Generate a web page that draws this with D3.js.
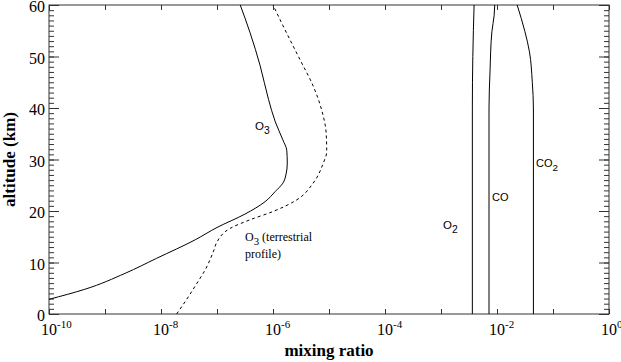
<!DOCTYPE html>
<html><head><meta charset="utf-8">
<script src="https://cdn.jsdelivr.net/npm/d3@7"></script>
<style>
body{margin:0;background:#fff;}
svg{display:block;}
</style></head>
<body><svg id="c" width="621" height="362"></svg>
<script>
// Ozone profile (solid)
const o3Alt = [2.85, 4.8, 7.9, 10.8, 14.4, 16.8, 19.4, 21.8, 23.8, 25.4, 27.0, 29.3, 31.8, 33.8, 37.3, 41.7, 48.2, 54.6, 60];
const o3Mix = [1e-10, 4.37e-10, 2.29e-9, 8.3e-9, 4.07e-8, 1.0e-7, 3.16e-7, 7.2e-7, 1.1e-6, 1.5e-6, 1.7e-6, 1.8e-6, 1.76e-6, 1.5e-6, 1.1e-6, 8.3e-7, 5.9e-7, 3.9e-7, 2.6e-7];
// Ozone terrestrial profile (dashed)
const o3TerAlt = [0, 2.4, 6.0, 8.5, 12.4, 14.0, 16.6, 18.3, 19.9, 22.1, 25.4, 29.3, 31.5, 35.1, 39.6, 44.3, 49.5, 54.5, 60];
const o3TerMix = [1.9e-8, 2.7e-8, 4.4e-8, 6.1e-8, 8.8e-8, 1.0e-7, 1.7e-7, 3.9e-7, 1.0e-6, 2.6e-6, 5.2e-6, 7.9e-6, 9.1e-6, 8.9e-6, 7.4e-6, 5.2e-6, 3.0e-6, 1.76e-6, 1.0e-6];
// O2
const o2Alt = [0, 40, 50, 60];
const o2Mix = [3.63e-3, 3.63e-3, 3.7e-3, 3.9e-3];
// CO
const coAlt = [0, 40, 47, 54.8, 58, 60];
const coMix = [7.2e-3, 7.2e-3, 7.5e-3, 8.1e-3, 8.9e-3, 9.1e-3];
// CO2
const co2Alt = [0, 39.8, 45, 50.9, 54.8, 60];
const co2Mix = [0.0447, 0.0447, 0.0427, 0.038, 0.0316, 0.0229];

const xExponents = [-10, -9, -8, -7, -6, -5, -4, -3, -2, -1, 0];
const xLabelExponents = [-10, -8, -6, -4, -2, 0];
const yMajor = [0, 10, 20, 30, 40, 50, 60];
const yMinor = d3.range(0, 61, 1);

const L = 49, R = 609, T = 5, B = 314;
const svg = d3.select("#c");
const x = d3.scaleLog().domain([1e-10, 1]).range([L, R]);
const y = d3.scaleLinear().domain([0, 60]).range([B, T]);

const axisColor = "#333";
const serif = "'Liberation Serif', 'Times New Roman', Times, serif";
const sans = "'Liberation Sans', Arial, Helvetica, sans-serif";
function style(g){
  g.selectAll("path,line").attr("stroke", axisColor).attr("stroke-width", 1);
  g.select(".domain").remove();
}
const decades = xExponents.map(e => Math.pow(10, e));

svg.append("g").attr("transform", `translate(0,${B})`)
  .call(d3.axisBottom(x).tickValues(decades).tickSize(-5).tickSizeOuter(0).tickFormat("")).call(style);
svg.append("g").attr("transform", `translate(0,${T})`)
  .call(d3.axisTop(x).tickValues(decades).tickSize(-5).tickSizeOuter(0).tickFormat("")).call(style);
svg.append("g").attr("transform", `translate(${L},0)`)
  .call(d3.axisLeft(y).tickValues(yMinor).tickSize(-5).tickSizeOuter(0).tickFormat("")).call(style);
svg.append("g").attr("transform", `translate(${R},0)`)
  .call(d3.axisRight(y).tickValues(yMinor).tickSize(-5).tickSizeOuter(0).tickFormat("")).call(style);
svg.append("g").attr("transform", `translate(${R},0)`)
  .call(d3.axisRight(y).tickValues(yMajor).tickSize(-10).tickSizeOuter(0).tickFormat("")).call(style);
const yl = svg.append("g").attr("transform", `translate(${L},0)`)
  .call(d3.axisLeft(y).tickValues(yMajor).tickSize(-10).tickSizeOuter(0).tickPadding(4).tickFormat(d3.format("d")));
style(yl);
yl.attr("font-family", null).attr("font-size", null);
yl.selectAll("text").attr("font-family", serif)
  .attr("font-size", 16).attr("fill", "#000").attr("dy", "0.42em");

// frame
svg.append("rect").attr("x", L).attr("y", T).attr("width", R - L).attr("height", B - T)
  .attr("fill", "none").attr("stroke", axisColor).attr("stroke-width", 1);

// x tick labels with superscripts
const xl = svg.append("g").attr("font-family", serif).attr("fill", "#000");
xLabelExponents.forEach(e => {
  const t = xl.append("text").attr("x", x(Math.pow(10, e)) - 8).attr("y", 335).attr("font-size", 16);
  t.append("tspan").text("10");
  t.append("tspan").attr("font-size", 11).attr("dy", -7).text(e === 0 ? "0" : "-" + Math.abs(e));
});

// axis titles
svg.append("text").attr("x", (L + R) / 2).attr("y", 356).attr("text-anchor", "middle")
  .attr("font-family", serif).attr("font-weight", "bold")
  .attr("font-size", 17).text("mixing ratio");
svg.append("text").attr("transform", `translate(15,${(T + B) / 2}) rotate(-90)`).attr("text-anchor", "middle")
  .attr("font-family", serif).attr("font-weight", "bold")
  .attr("font-size", 17).text("altitude (km)");

// curves
function series(alt, mix){ return alt.map((a, i) => [mix[i], a]); }
const line = d3.line().x(d => x(d[0])).y(d => y(d[1])).curve(d3.curveMonotoneY);
const plot = svg.append("g");
const draw = (alt, mix, dash) => plot.append("path").datum(series(alt, mix)).attr("d", line)
  .attr("fill", "none").attr("stroke", "#000").attr("stroke-width", 1)
  .attr("stroke-dasharray", dash || null);
draw(o3Alt, o3Mix);
draw(o3TerAlt, o3TerMix, "3,3");
draw(o2Alt, o2Mix);
draw(coAlt, coMix);
draw(co2Alt, co2Mix);

// labels
function chem(px, py, base, sub, family, size){
  const t = svg.append("text").attr("x", px).attr("y", py).attr("font-family", family).attr("font-size", size).attr("fill", "#000");
  t.append("tspan").text(base);
  if (sub) t.append("tspan").attr("font-size", size * 0.9).attr("dy", 3.5).text(sub);
  return t;
}
chem(255, 130, "O", "3", sans, 11.5);
chem(443, 229, "O", "2", sans, 11.5);
chem(492, 201, "CO", null, sans, 11);
chem(536, 167, "CO", "2", sans, 11);
const tl = chem(245, 241, "O", "3", serif, 12);
tl.append("tspan").attr("dy", -3.5).text(" (terrestrial");
svg.append("text").attr("x", 245).attr("y", 258).attr("font-family", serif).attr("font-size", 12).text("profile)");
</script></body></html>
